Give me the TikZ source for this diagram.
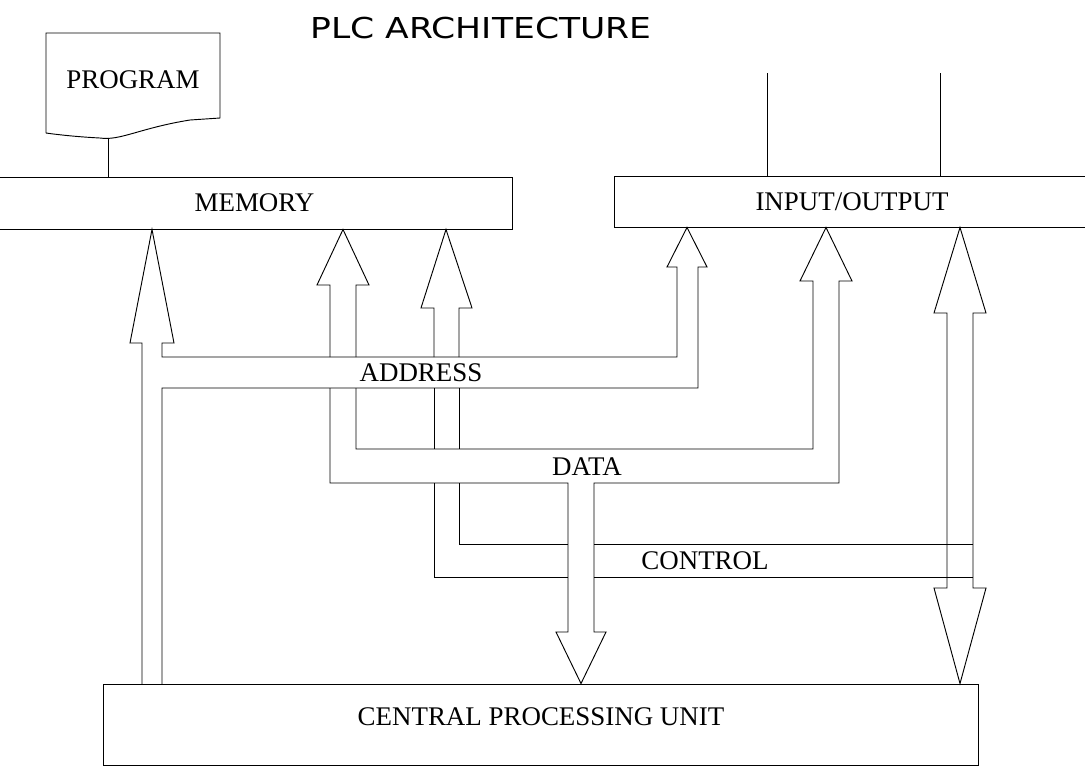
\documentclass[tikz,border=0pt]{standalone}
\usepackage{fontspec}
\setmainfont{Liberation Serif}
\newfontfamily\titlefont{DejaVu Sans}
\begin{document}
\begin{tikzpicture}[x=0.75pt,y=-0.75pt,line width=0.7pt,line join=miter,
  lbl/.style={font=\fontsize{20.2}{24}\selectfont,inner sep=0pt},
  box/.style={draw,inner sep=0pt,font=\fontsize{20.2}{24}\selectfont},
  wire/.style={draw,line width=0.7pt}]
\useasboundingbox (0,0) rectangle (1085,769);

% title
\node[inner sep=0pt] (title) at (481,28) {\scalebox{1.2}[1]{\titlefont\fontsize{21.6}{26}\selectfont PLC ARCHITECTURE}};

% boxes
\node[box,minimum width=386.25pt,minimum height=39pt] (memory) at (254.5,203) {MEMORY};
\node[box,minimum width=357pt,minimum height=38.25pt] (io) at (852,201.5) {INPUT/OUTPUT};
\node[box,minimum width=656.25pt,minimum height=60.75pt] (cpu) at (540.5,724.5) {};
\node[lbl] (cputext) at (541,717) {CENTRAL PROCESSING UNIT};

% program document
\node[lbl,minimum width=130.5pt,minimum height=63pt] (program) at (133,80) {PROGRAM};
\draw (46,133) -- (46,33) -- (220,33) -- (220,118) -- (190,120)
      .. controls (140,128) and (120,141) .. (100,138)
      .. controls (80,137) and (60,135) .. (46,133);
\coordinate (pb) at (108,137.5);
\draw (pb) -- (pb |- memory.north);

% input lines
\coordinate (in1) at (767,73);
\coordinate (in2) at (940,73);
\draw (in1) -- (in1 |- io.north);
\draw (in2) -- (in2 |- io.north);

% x positions of arrow tips
\coordinate (xA) at (152,0);
\coordinate (xB) at (343,0);
\coordinate (xC) at (446,0);
\coordinate (xD) at (687,0);
\coordinate (xE) at (826,0);
\coordinate (xF) at (960,0);
\coordinate (xG) at (581,0);

% ADDRESS system
\draw (142,684) -- (142,343) -- (130,343) -- (xA |- memory.south) -- (174,343) -- (162,343)
      -- (162,357) -- (677,357) -- (677,267) -- (667,267) -- (xD |- io.south) -- (707,267)
      -- (698,267) -- (698,388) -- (162,388) -- (162,684);
\node[lbl] (address) at (421,373) {ADDRESS};

% DATA system
\draw (330,357) -- (330,285) -- (317,285) -- (xB |- memory.south) -- (369,285) -- (356,285) -- (356,357);
\draw (356,388) -- (356,449) -- (813,449) -- (813,281) -- (800,281) -- (xE |- io.south)
      -- (852,281) -- (839,281) -- (839,483) -- (594,483) -- (594,632) -- (606,632)
      -- (xG |- cpu.north) -- (556,632) -- (568,632) -- (568,483) -- (330,483) -- (330,388);
\node[lbl] (data) at (587,467) {DATA};

% CONTROL system
\draw (434,357) -- (434,308) -- (421,308) -- (xC |- memory.south) -- (472,308) -- (459,308) -- (459,357);
\draw (434,388) -- (434,449);
\draw (459,388) -- (459,449);
\draw (459,483) -- (459,544) -- (568,544);
\draw (434,483) -- (434,577) -- (568,577);
\draw (594,544) -- (973,544);
\draw (594,577) -- (973,577);
\draw (947,313) -- (934,313) -- (xF |- io.south) -- (986,313) -- (973,313) -- (973,588)
      -- (986,588) -- (xF |- cpu.north) -- (934,588) -- (947,588) -- cycle;
\node[lbl] (control) at (705,561) {CONTROL};
\end{tikzpicture}
\end{document}
